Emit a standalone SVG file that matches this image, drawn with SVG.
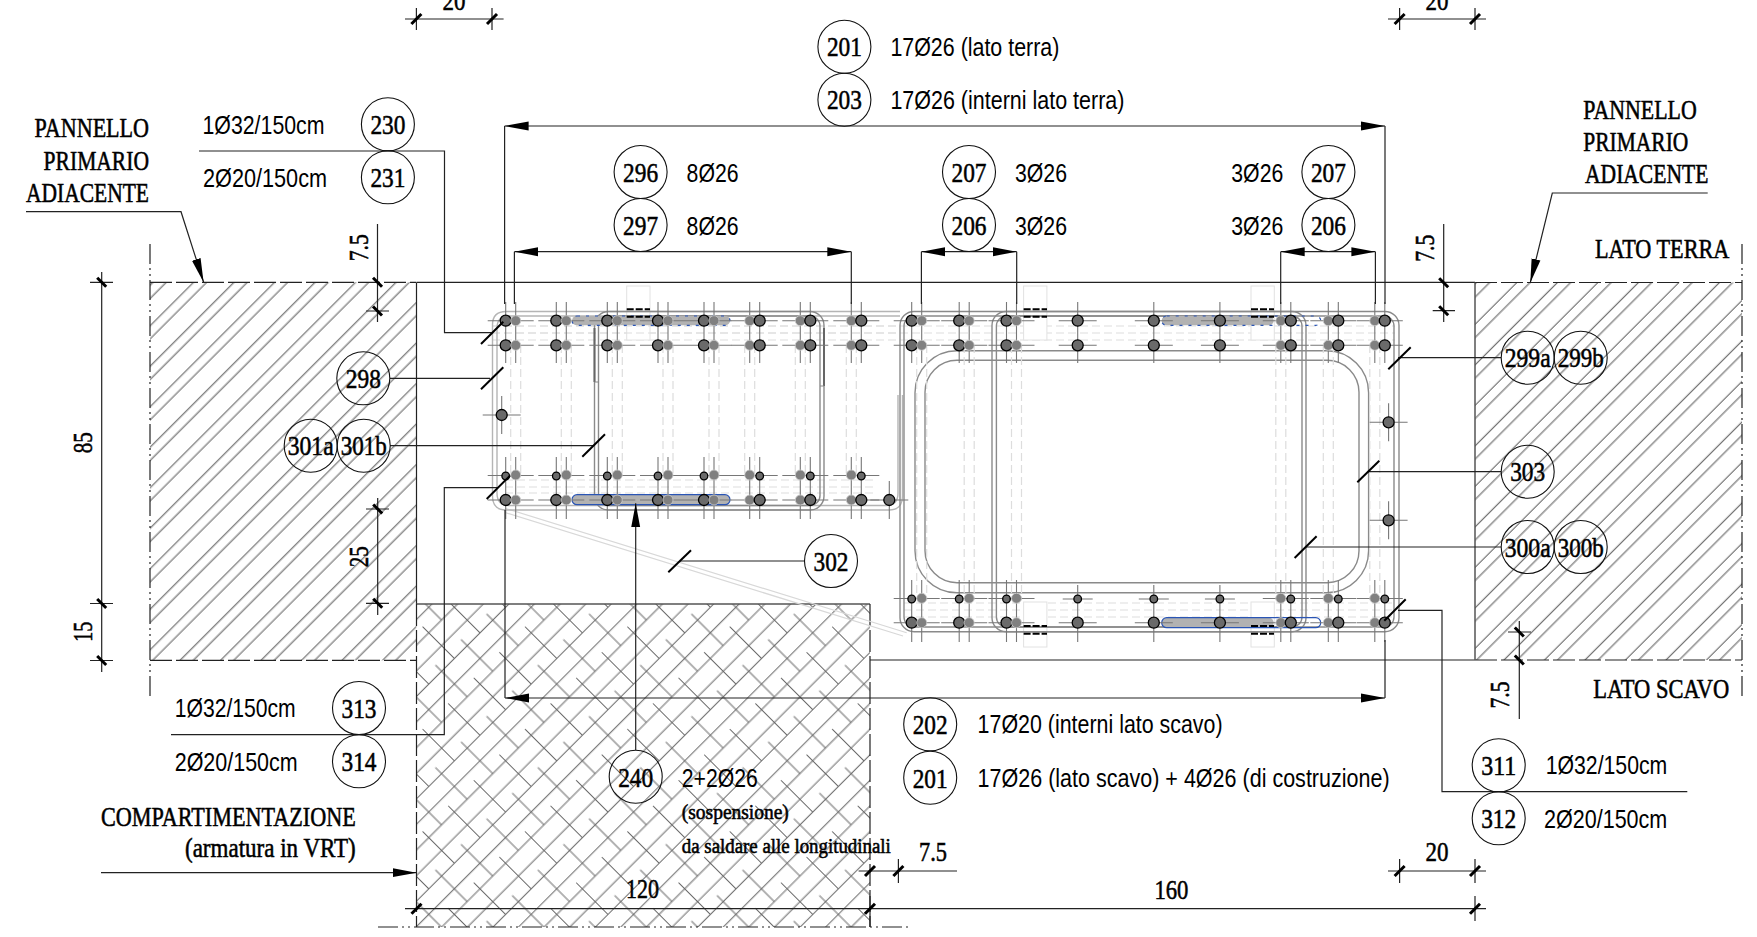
<svg xmlns="http://www.w3.org/2000/svg" xmlns:xlink="http://www.w3.org/1999/xlink" width="1757" height="937" viewBox="0 0 1757 937">
<style>
text{fill:#000}
.sf{font-family:"Liberation Serif",serif;stroke:#000;stroke-width:.55}
.sn{font-family:"Liberation Sans",sans-serif;font-size:25px;fill:#000}
.c{font-size:28px;text-anchor:middle}
.p{font-size:27px}
.s{font-size:20px}
.ci{fill:none;stroke:#111;stroke-width:1.1}
.ln{fill:none;stroke:#222;stroke-width:1.2}
.g{fill:none;stroke:#555;stroke-width:1.5}
.tk{fill:none;stroke:#777;stroke-width:1.1}
.dv{fill:none;stroke:#ddd;stroke-width:1.2;stroke-dasharray:8 4}
.d{fill:#6a6a6a;stroke:#000;stroke-width:1.3}
.l{fill:#808080;stroke:#ccc;stroke-width:.8}
.sl{fill:none;stroke:#000;stroke-width:2}
.h1{fill:none;stroke:#b5b5b5;stroke-width:1.4}
.h2{fill:none;stroke:#8a8a8a;stroke-width:1.4}
.cp{fill:#fff;stroke:#e2e2e2;stroke-width:1}
.bd{fill:none;stroke:#000;stroke-width:2;stroke-dasharray:7 2}
.pill{fill:#b2b2b2}
.b1{fill:none;stroke:#2a55b5;stroke-width:1.2}
.b2{fill:none;stroke:#2a55b5;stroke-width:1.2;stroke-dasharray:3 6}
.tick{fill:none;stroke:#000;stroke-width:3}
.da{fill:none;stroke:#222;stroke-width:1.2;stroke-dasharray:22 4}
.dd{fill:none;stroke:#222;stroke-width:1.2;stroke-dasharray:20 4 2 4 2 4}
</style>
<defs>
<pattern id="hL" patternUnits="userSpaceOnUse" width="28.64" height="20" patternTransform="rotate(45)"><path d="M2.1 0V20M21.5 0V20" stroke="#555" stroke-width="1" fill="none"/></pattern>
<pattern id="hR" patternUnits="userSpaceOnUse" width="28.64" height="20" patternTransform="rotate(45)"><path d="M12.2 0V20M21.6 0V20" stroke="#555" stroke-width="1" fill="none"/></pattern>
<pattern id="hC" patternUnits="userSpaceOnUse" width="72.4" height="36.2" patternTransform="rotate(45)"><path d="M8.6 0V36.2M26.7 0V36.2M44.8 0V36.2M62.9 0V36.2M18 35.6H63.25M54.2 17.5H72.4M0 17.5H27.05" stroke="#666" stroke-width="1" fill="none"/></pattern>
<marker id="ar" markerUnits="userSpaceOnUse" markerWidth="25" markerHeight="10" refX="24" refY="5" orient="auto-start-reverse"><path d="M0 .5L24 5L0 9.5z" fill="#000"/></marker>
<path id="tr" class="tick" d="M-5 5L5 -5"/>
<path id="tl" class="tick" d="M-4.5 -4.5L4.5 4.5"/>
<g id="colL"><path class="dv" d="M5 345V475M15 345V475"/><path class="tk" d="M0 302V363M10 302V363M0 457V519M10 457V519M-18 320.7H28M-18 345.3H28M-18 475.5H28M-18 500H28"/><circle class="d" cy="320.7" r="5.5"/><circle class="d" cy="345.3" r="5.5"/><circle class="d" cy="476" r="3.8"/><circle class="d" cy="500" r="5.5"/><circle class="l" cx="10" cy="320.7" r="5"/><circle class="l" cx="10" cy="345.3" r="5"/><circle class="l" cx="10" cy="475" r="5"/><circle class="l" cx="10" cy="500" r="5"/></g>
<g id="colLr"><path class="dv" d="M-15 345V475M-5 345V475"/><path class="tk" d="M0 302V363M-10 302V363M0 457V519M-10 457V519M-28 320.7H18M-28 345.3H18M-28 475.5H18M-28 500H18"/><circle class="l" cx="-10" cy="320.7" r="5"/><circle class="l" cx="-10" cy="345.3" r="5"/><circle class="l" cx="-10" cy="475" r="5"/><circle class="l" cx="-10" cy="500" r="5"/><circle class="d" cy="320.7" r="5.5"/><circle class="d" cy="345.3" r="5.5"/><circle class="d" cy="476" r="3.8"/><circle class="d" cy="500" r="5.5"/></g>
<g id="colR"><path class="dv" d="M5 345V600M15 345V600"/><path class="tk" d="M0 302V363M10 302V363M0 580V642M10 580V642M-18 320.7H28M-18 345.3H28M-18 598.5H28M-18 622.7H28"/><circle class="d" cy="320.7" r="5.5"/><circle class="d" cy="345.3" r="5.5"/><circle class="d" cy="599" r="3.8"/><circle class="d" cy="622.7" r="5.5"/><circle class="l" cx="10" cy="320.7" r="5"/><circle class="l" cx="10" cy="345.3" r="5"/><circle class="l" cx="10" cy="598.3" r="5"/><circle class="l" cx="10" cy="622.7" r="5"/></g>
<g id="colRr"><path class="dv" d="M-15 345V600M-5 345V600"/><path class="tk" d="M0 302V363M-10 302V363M0 580V642M-10 580V642M-28 320.7H18M-28 345.3H18M-28 598.5H18M-28 622.7H18"/><circle class="l" cx="-10" cy="320.7" r="5"/><circle class="l" cx="-10" cy="345.3" r="5"/><circle class="l" cx="-10" cy="598.3" r="5"/><circle class="l" cx="-10" cy="622.7" r="5"/><circle class="d" cy="320.7" r="5.5"/><circle class="d" cy="345.3" r="5.5"/><circle class="d" cy="599" r="3.8"/><circle class="d" cy="622.7" r="5.5"/></g>
<g id="colS"><path class="tk" d="M0 302V363M0 585V642M-19 320.7H19M-19 345.3H19M-15 599H15M-19 622.7H19"/><circle class="d" cy="320.7" r="5.5"/><circle class="d" cy="345.3" r="5.5"/><circle class="d" cy="599" r="3.8"/><circle class="d" cy="622.7" r="5.5"/></g>
<g id="one"><path class="tk" d="M0 -19V19M-19 0H19"/><circle class="d" r="5.5"/></g>
</defs>
<rect width="1757" height="937" fill="#fff"/>
<g id="panels">
<rect x="150" y="282.3" width="266.5" height="378" fill="url(#hL)"/>
<rect x="1475" y="282.5" width="267" height="377.5" fill="url(#hR)"/>
<rect x="416.5" y="604" width="453.5" height="323" fill="url(#hC)"/>
<path class="da" d="M150 282.3H416M1475 282.5H1742M150 660.3H416M1475 660H1742"/>
<path class="dd" d="M150 244V698M1742 244V698M378 927H908"/>
<path class="ln" d="M416.5 282.4H1475M416.5 282.4V604M870 660H1475"/>
<path class="g" d="M416.5 604H870M1475 282.5V660"/>
<path class="da" d="M416.5 604V927M870 604V927"/>
</g>
<g id="cage">
<path class="dv" d="M492 326H1395M492 333H1395M492 340H1395M505 480H876M505 487H876M505 493H876M904 603H1395M904 610H1395M904 617H1395"/>
<path d="M505 508.3L906.7 632.7M505 512.5L903 636" fill="none" stroke="#d8d8d8" stroke-width="1.2"/>
<rect class="cp" x="626.7" y="286" width="23.3" height="54"/>
<rect class="cp" x="1023.6" y="286" width="23.3" height="54"/>
<rect class="cp" x="1251" y="286" width="23.3" height="54"/>
<rect class="cp" x="1023.6" y="602" width="23.3" height="45"/>
<rect class="cp" x="1251" y="602" width="23.3" height="45"/>
<path class="dv" d="M492 326H900M492 333H900"/>
<path class="h1" d="M492.5 325Q492.5 311.5 506 311.5H900M902.5 395V496Q902.5 510 889 510H506Q492.5 510 492.5 496V325M497 328Q497 316 509 316H900M898 395V493Q898 505.5 886 505.5H509Q497 505.5 497 493V328"/>
<rect class="h2" x="594.5" y="311.5" width="229.5" height="198.5" rx="14"/>
<rect class="h2" x="598.5" y="316" width="221.5" height="189.5" rx="10"/>
<path d="M594.5 382V328M824 386V328" stroke="#666" stroke-width="2" fill="none"/>
<path d="M598.5 382H594.5M820 386H824" stroke="#888" stroke-width="1" fill="none"/>
<rect class="h2" x="900" y="311.5" width="499" height="320.2" rx="14"/>
<rect class="h2" x="904" y="316" width="490" height="311" rx="10"/>
<rect class="h2" x="992" y="311.5" width="314" height="320.2" rx="14"/>
<rect class="h2" x="996.4" y="316" width="305.6" height="311" rx="10"/>
<rect class="h2" x="915" y="350.7" width="453.6" height="242" rx="42"/>
<rect class="h2" x="925" y="360.3" width="434" height="222.4" rx="32"/>
<rect class="pill" x="572" y="316" width="158" height="9.3" rx="5"/>
<rect class="b2" x="572" y="316" width="158" height="9.3" rx="5"/>
<rect class="pill" x="572" y="494.7" width="158" height="10" rx="5"/>
<rect class="b1" x="572" y="494.7" width="158" height="10" rx="5"/>
<rect class="pill" x="1161.7" y="316" width="112" height="9.3" rx="5"/>
<rect class="b2" x="1161.7" y="316" width="159" height="9.3" rx="5"/>
<rect class="pill" x="1161.7" y="617.7" width="112" height="10" rx="5"/>
<rect class="b1" x="1161.7" y="617.7" width="159" height="10" rx="5"/>
<path class="bd" d="M626.7 309.3H650M626.7 316.7H650M1023.6 309.3H1047M1023.6 316.7H1047M1251 309.3H1274M1251 316.7H1274M1023.6 626H1047M1023.6 633.7H1047M1251 626H1274M1251 633.7H1274"/>
<use xlink:href="#colL" href="#colL" x="505.7"/>
<use xlink:href="#colL" href="#colL" x="556.3"/>
<use xlink:href="#colL" href="#colL" x="607.3"/>
<use xlink:href="#colL" href="#colL" x="658"/>
<use xlink:href="#colL" href="#colL" x="704"/>
<use xlink:href="#colLr" href="#colLr" x="759.7"/>
<use xlink:href="#colLr" href="#colLr" x="810.3"/>
<use xlink:href="#colLr" href="#colLr" x="861.3"/>
<use xlink:href="#colR" href="#colR" x="911.7"/>
<use xlink:href="#colR" href="#colR" x="959.2"/>
<use xlink:href="#colR" href="#colR" x="1006.5"/>
<use xlink:href="#colS" href="#colS" x="1077.7"/>
<use xlink:href="#colS" href="#colS" x="1153.8"/>
<use xlink:href="#colS" href="#colS" x="1219.9"/>
<use xlink:href="#colRr" href="#colRr" x="1290.8"/>
<use xlink:href="#colRr" href="#colRr" x="1338.3"/>
<use xlink:href="#colRr" href="#colRr" x="1384.8"/>
<use xlink:href="#one" href="#one" x="501.7" y="415"/>
<use xlink:href="#one" href="#one" x="889.3" y="500"/>
<use xlink:href="#one" href="#one" x="1388.6" y="422.3"/>
<use xlink:href="#one" href="#one" x="1388.6" y="520.3"/>
</g>
<g id="connectors">
<path class="ln" marker-start="url(#ar)" marker-end="url(#ar)" d="M504.6 126H1385"/>
<path class="ln" d="M504.6 126V304M1385 126V304"/>
<path class="ln" marker-start="url(#ar)" marker-end="url(#ar)" d="M514.4 251.7H851.3"/>
<path class="ln" d="M514.4 251.7V304M851.3 251.7V304"/>
<path class="ln" marker-start="url(#ar)" marker-end="url(#ar)" d="M921.4 251.7H1016.7"/>
<path class="ln" d="M921.4 251.7V304M1016.7 251.7V304"/>
<path class="ln" marker-start="url(#ar)" marker-end="url(#ar)" d="M1280.7 251.7H1375.4"/>
<path class="ln" d="M1280.7 251.7V304M1375.4 251.7V304"/>
<path class="ln" marker-start="url(#ar)" marker-end="url(#ar)" d="M505 698H1385"/>
<path class="ln" d="M505 510V698M1385 640V698"/>
<path class="ln" marker-end="url(#ar)" d="M26 211.7H181L203.6 282.3"/>
<path class="ln" marker-end="url(#ar)" d="M1707.7 193H1552.3L1530.3 282.7"/>
<path class="ln" marker-end="url(#ar)" d="M101 872.7H416.5"/>
<path class="ln" marker-end="url(#ar)" d="M635.7 750V503.3"/>
<path class="ln" d="M199 151H444.5V332.7H491.7"/>
<path class="sl" d="M481 344L503.3 321.7"/>
<path class="ln" d="M390 378.3H490"/>
<path class="sl" d="M481 389.3L503.3 367.3"/>
<path class="ln" d="M390 445.7H593"/>
<path class="sl" d="M582.3 456.7L605 434.3"/>
<path class="ln" d="M171 734.7H444.3V487.7H498"/>
<path class="sl" d="M486.7 499L510 475.7"/>
<path class="ln" d="M804.5 561H680"/>
<path class="sl" d="M668.3 572.3L691 550.3"/>
<path class="ln" d="M1501 357.7H1398"/>
<path class="sl" d="M1388.3 369.3L1410.7 347.3"/>
<path class="ln" d="M1501 471.7H1368.3"/>
<path class="sl" d="M1357.3 482.3L1379.3 460.7"/>
<path class="ln" d="M1501 547H1306.3"/>
<path class="sl" d="M1294.6 558L1316.6 536.3"/>
<path class="ln" d="M1687.3 791.7H1442V610.3H1398"/>
<path class="sl" d="M1384.3 620.7L1405.7 599.3"/>
</g>
<g id="dims">
<path class="ln" d="M405 19H503.6M416.4 8V30M492 8V30"/><use href="#tr" x="416.4" y="19"/><use href="#tr" x="492" y="19"/>
<path class="ln" d="M1388 19H1486M1399.6 8V30M1475 8V30"/><use href="#tr" x="1399.6" y="19"/><use href="#tr" x="1475" y="19"/>
<path class="ln" d="M1388 871H1486M1399.6 859V883M1475 859V883"/><use href="#tr" x="1399.6" y="871"/><use href="#tr" x="1475" y="871"/>
<path class="ln" d="M858.6 871H957M898.4 859V883"/><use href="#tr" x="870" y="871"/><use href="#tr" x="898.4" y="871"/>
<path class="ln" d="M405 908.7H1486M1475 896V921M870 896V927"/><use href="#tr" x="416.5" y="908.7"/><use href="#tr" x="870" y="908.7"/><use href="#tr" x="1475" y="908.7"/>
<path class="ln" d="M101.7 272V672M90 282.3H113M90 603.5H113M90 660.5H113"/><use href="#tl" x="101.7" y="282.3"/><use href="#tl" x="101.7" y="603.5"/><use href="#tl" x="101.7" y="660.5"/>
<path class="ln" d="M377.7 498V615M366 509H389M366 603.3H389"/><use href="#tl" x="377.7" y="509"/><use href="#tl" x="377.7" y="603.3"/>
<path class="ln" d="M377.5 224V322M366 311H389"/><use href="#tl" x="377.5" y="282.3"/><use href="#tl" x="377.5" y="311"/>
<path class="ln" d="M1443.7 224V322M1432.7 310.7H1455"/><use href="#tl" x="1443.7" y="282.7"/><use href="#tl" x="1443.7" y="310.7"/>
<path class="ln" d="M1519.3 621V719M1508 632H1531"/><use href="#tl" x="1519.3" y="632"/><use href="#tl" x="1519.3" y="660"/>
<text class="sf c" x="454" y="10" textLength="23" lengthAdjust="spacingAndGlyphs">20</text>
<text class="sf c" x="1437" y="10" textLength="23" lengthAdjust="spacingAndGlyphs">20</text>
<text class="sf c" x="1437" y="860.7" textLength="23" lengthAdjust="spacingAndGlyphs">20</text>
<text class="sf c" x="933" y="860.7" textLength="28" lengthAdjust="spacingAndGlyphs">7.5</text>
<text class="sf c" x="1171.4" y="899" textLength="34" lengthAdjust="spacingAndGlyphs">160</text>
<text class="sf c" x="642.5" y="898" textLength="33" lengthAdjust="spacingAndGlyphs">120</text>
<text class="sf c" transform="translate(91.7,442.7) rotate(-90)" textLength="21" lengthAdjust="spacingAndGlyphs">85</text>
<text class="sf c" transform="translate(91.7,631.7) rotate(-90)" textLength="20" lengthAdjust="spacingAndGlyphs">15</text>
<text class="sf c" transform="translate(368,556.7) rotate(-90)" textLength="21" lengthAdjust="spacingAndGlyphs">25</text>
<text class="sf c" transform="translate(368,247.7) rotate(-90)" textLength="27" lengthAdjust="spacingAndGlyphs">7.5</text>
<text class="sf c" transform="translate(1434,248.3) rotate(-90)" textLength="27" lengthAdjust="spacingAndGlyphs">7.5</text>
<text class="sf c" transform="translate(1509.3,695) rotate(-90)" textLength="27" lengthAdjust="spacingAndGlyphs">7.5</text>
</g>
<g id="labels">
<text class="sf p" x="34.6" y="137.3" textLength="114.4" lengthAdjust="spacingAndGlyphs">PANNELLO</text>
<text class="sf p" x="43.6" y="170" textLength="105.4" lengthAdjust="spacingAndGlyphs">PRIMARIO</text>
<text class="sf p" x="26" y="201.7" textLength="123" lengthAdjust="spacingAndGlyphs">ADIACENTE</text>
<text class="sf p" x="1583.3" y="119.3" textLength="113.4" lengthAdjust="spacingAndGlyphs">PANNELLO</text>
<text class="sf p" x="1583.3" y="150.7" textLength="105" lengthAdjust="spacingAndGlyphs">PRIMARIO</text>
<text class="sf p" x="1585" y="182.7" textLength="123.3" lengthAdjust="spacingAndGlyphs">ADIACENTE</text>
<text class="sf p" x="1595" y="257.7" textLength="134.3" lengthAdjust="spacingAndGlyphs">LATO TERRA</text>
<text class="sf p" x="1593.3" y="698.3" textLength="136" lengthAdjust="spacingAndGlyphs">LATO SCAVO</text>
<text class="sf p" x="101" y="825.7" textLength="254.7" lengthAdjust="spacingAndGlyphs">COMPARTIMENTAZIONE</text>
<text class="sf p" x="185" y="857" textLength="170.7" lengthAdjust="spacingAndGlyphs">(armatura in VRT)</text>
<text class="sn" x="202.5" y="134" textLength="122" lengthAdjust="spacingAndGlyphs">1Ø32/150cm</text>
<text class="sn" x="203" y="186.7" textLength="124" lengthAdjust="spacingAndGlyphs">2Ø20/150cm</text>
<text class="sn" x="174.7" y="717.3" textLength="121" lengthAdjust="spacingAndGlyphs">1Ø32/150cm</text>
<text class="sn" x="174.7" y="770.7" textLength="123" lengthAdjust="spacingAndGlyphs">2Ø20/150cm</text>
<text class="sn" x="1545.7" y="774.3" textLength="121.6" lengthAdjust="spacingAndGlyphs">1Ø32/150cm</text>
<text class="sn" x="1544" y="828.3" textLength="123.3" lengthAdjust="spacingAndGlyphs">2Ø20/150cm</text>
<text class="sn" x="890.4" y="56" textLength="169" lengthAdjust="spacingAndGlyphs">17Ø26 (lato terra)</text>
<text class="sn" x="890.4" y="109" textLength="234" lengthAdjust="spacingAndGlyphs">17Ø26 (interni lato terra)</text>
<text class="sn" x="686.6" y="181.7" textLength="52" lengthAdjust="spacingAndGlyphs">8Ø26</text>
<text class="sn" x="686.6" y="234.7" textLength="52" lengthAdjust="spacingAndGlyphs">8Ø26</text>
<text class="sn" x="1015" y="181.7" textLength="52" lengthAdjust="spacingAndGlyphs">3Ø26</text>
<text class="sn" x="1015" y="234.7" textLength="52" lengthAdjust="spacingAndGlyphs">3Ø26</text>
<text class="sn" x="1231.3" y="181.7" textLength="52" lengthAdjust="spacingAndGlyphs">3Ø26</text>
<text class="sn" x="1231.3" y="234.7" textLength="52" lengthAdjust="spacingAndGlyphs">3Ø26</text>
<text class="sn" x="977.6" y="733.3" textLength="245" lengthAdjust="spacingAndGlyphs">17Ø20 (interni lato scavo)</text>
<text class="sn" x="977.6" y="786.7" textLength="412" lengthAdjust="spacingAndGlyphs">17Ø26 (lato scavo) + 4Ø26 (di costruzione)</text>
<text class="sn" x="681.8" y="786.7" textLength="76" lengthAdjust="spacingAndGlyphs">2+2Ø26</text>
<text class="sf s" x="681.8" y="819.3" textLength="107" lengthAdjust="spacingAndGlyphs">(sospensione)</text>
<text class="sf s" x="681.8" y="853.3" textLength="209" lengthAdjust="spacingAndGlyphs">da saldare alle longitudinali</text>
</g>
<g id="n201a"><circle class="ci" cx="844.4" cy="46.7" r="26.5"/><text class="sf c" x="844.4" y="56" textLength="35" lengthAdjust="spacingAndGlyphs">201</text></g>
<g id="n203"><circle class="ci" cx="844.4" cy="99.7" r="26.5"/><text class="sf c" x="844.4" y="109" textLength="35" lengthAdjust="spacingAndGlyphs">203</text></g>
<g id="n296"><circle class="ci" cx="640.6" cy="172" r="26.5"/><text class="sf c" x="640.6" y="181.5" textLength="35" lengthAdjust="spacingAndGlyphs">296</text></g>
<g id="n297"><circle class="ci" cx="640.6" cy="225" r="26.5"/><text class="sf c" x="640.6" y="234.5" textLength="35" lengthAdjust="spacingAndGlyphs">297</text></g>
<g id="n207a"><circle class="ci" cx="969" cy="172" r="26.5"/><text class="sf c" x="969" y="181.5" textLength="35" lengthAdjust="spacingAndGlyphs">207</text></g>
<g id="n206a"><circle class="ci" cx="969" cy="225" r="26.5"/><text class="sf c" x="969" y="234.5" textLength="35" lengthAdjust="spacingAndGlyphs">206</text></g>
<g id="n207b"><circle class="ci" cx="1328.4" cy="172" r="26.5"/><text class="sf c" x="1328.4" y="181.5" textLength="35" lengthAdjust="spacingAndGlyphs">207</text></g>
<g id="n206b"><circle class="ci" cx="1328.4" cy="225" r="26.5"/><text class="sf c" x="1328.4" y="234.5" textLength="35" lengthAdjust="spacingAndGlyphs">206</text></g>
<g id="n230"><circle class="ci" cx="387.9" cy="124.3" r="26.5"/><text class="sf c" x="387.9" y="133.5" textLength="35" lengthAdjust="spacingAndGlyphs">230</text></g>
<g id="n231"><circle class="ci" cx="387.9" cy="177.3" r="26.5"/><text class="sf c" x="387.9" y="187" textLength="35" lengthAdjust="spacingAndGlyphs">231</text></g>
<g id="n298"><circle class="ci" cx="363.3" cy="378.3" r="26.5"/><text class="sf c" x="363.3" y="388" textLength="35" lengthAdjust="spacingAndGlyphs">298</text></g>
<g id="n301a"><circle class="ci" cx="310.7" cy="445.7" r="26.5"/><text class="sf c" x="310.7" y="455" textLength="46" lengthAdjust="spacingAndGlyphs">301a</text></g>
<g id="n301b"><circle class="ci" cx="363.7" cy="445.7" r="26.5"/><text class="sf c" x="363.7" y="455" textLength="46" lengthAdjust="spacingAndGlyphs">301b</text></g>
<g id="n302"><circle class="ci" cx="831" cy="561" r="26.5"/><text class="sf c" x="831" y="570.5" textLength="35" lengthAdjust="spacingAndGlyphs">302</text></g>
<g id="n299a"><circle class="ci" cx="1527.7" cy="357.7" r="26.5"/><text class="sf c" x="1527.7" y="367" textLength="46" lengthAdjust="spacingAndGlyphs">299a</text></g>
<g id="n299b"><circle class="ci" cx="1580.7" cy="357.7" r="26.5"/><text class="sf c" x="1580.7" y="367" textLength="46" lengthAdjust="spacingAndGlyphs">299b</text></g>
<g id="n303"><circle class="ci" cx="1527.7" cy="471.7" r="26.5"/><text class="sf c" x="1527.7" y="481" textLength="35" lengthAdjust="spacingAndGlyphs">303</text></g>
<g id="n300a"><circle class="ci" cx="1527.7" cy="547" r="26.5"/><text class="sf c" x="1527.7" y="556.5" textLength="46" lengthAdjust="spacingAndGlyphs">300a</text></g>
<g id="n300b"><circle class="ci" cx="1580.7" cy="547" r="26.5"/><text class="sf c" x="1580.7" y="556.5" textLength="46" lengthAdjust="spacingAndGlyphs">300b</text></g>
<g id="n311"><circle class="ci" cx="1498.7" cy="765.3" r="26.5"/><text class="sf c" x="1498.7" y="775" textLength="35" lengthAdjust="spacingAndGlyphs">311</text></g>
<g id="n312"><circle class="ci" cx="1498.7" cy="818.3" r="26.5"/><text class="sf c" x="1498.7" y="828" textLength="35" lengthAdjust="spacingAndGlyphs">312</text></g>
<g id="n313"><circle class="ci" cx="359" cy="708" r="26.5"/><text class="sf c" x="359" y="717.5" textLength="35" lengthAdjust="spacingAndGlyphs">313</text></g>
<g id="n314"><circle class="ci" cx="359" cy="761.3" r="26.5"/><text class="sf c" x="359" y="771" textLength="35" lengthAdjust="spacingAndGlyphs">314</text></g>
<g id="n240"><circle class="ci" cx="635.7" cy="776.7" r="26.5"/><text class="sf c" x="635.7" y="786.5" textLength="35" lengthAdjust="spacingAndGlyphs">240</text></g>
<g id="n202"><circle class="ci" cx="930.2" cy="724.3" r="26.5"/><text class="sf c" x="930.2" y="734" textLength="35" lengthAdjust="spacingAndGlyphs">202</text></g>
<g id="n201b"><circle class="ci" cx="930.2" cy="777.7" r="26.5"/><text class="sf c" x="930.2" y="787.5" textLength="35" lengthAdjust="spacingAndGlyphs">201</text></g>
</svg>
